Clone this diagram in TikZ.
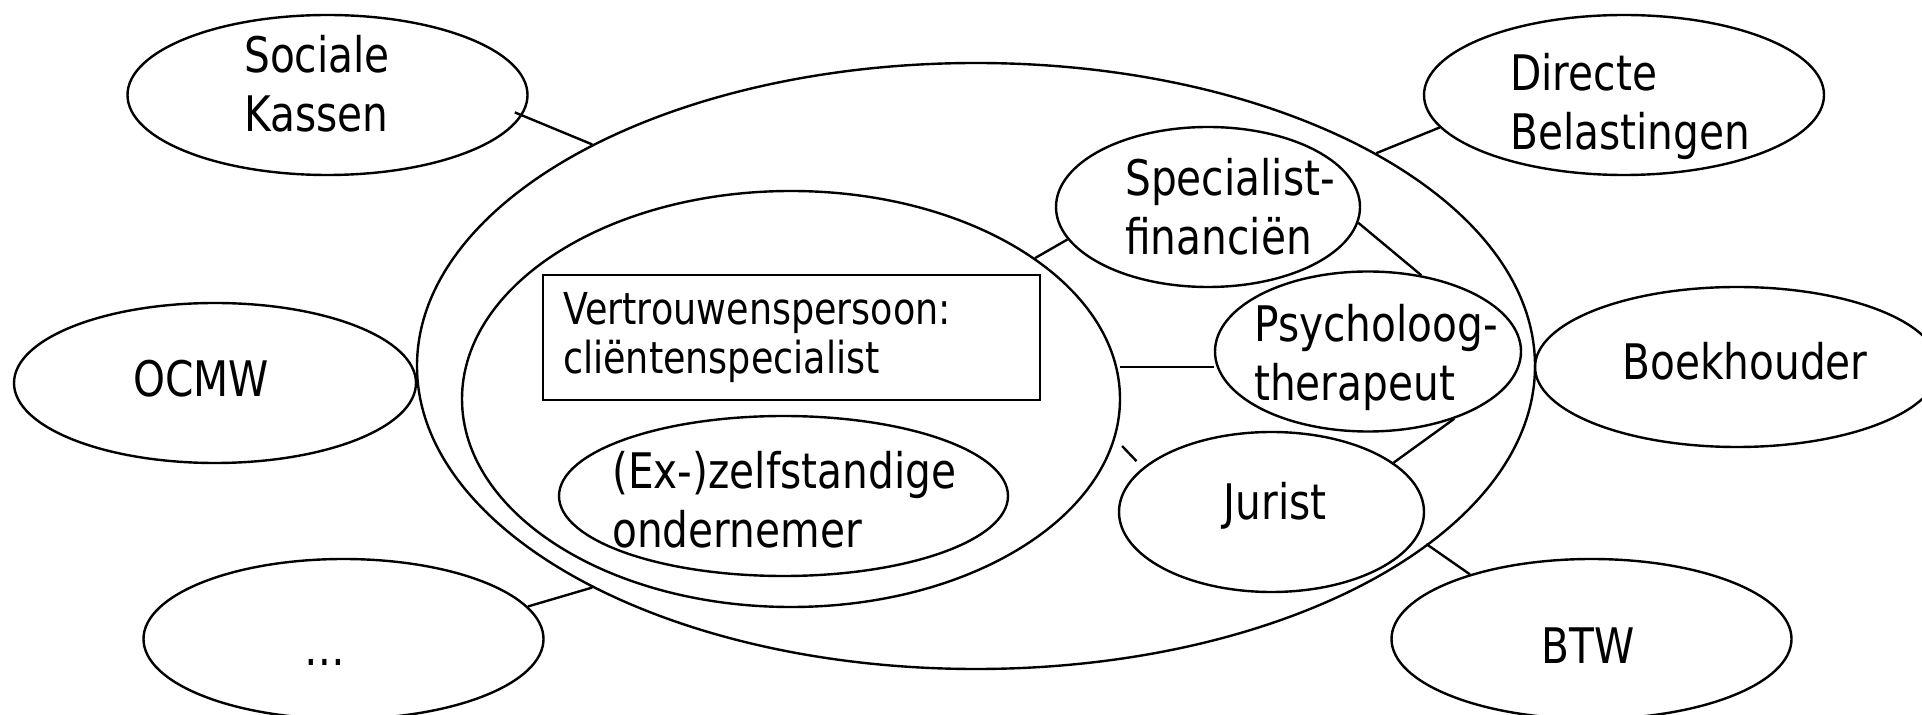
\documentclass[tikz,border=0pt]{standalone}
\usepackage{fontspec}
\setmainfont{DejaVu Sans}[FakeStretch=0.83]
\usetikzlibrary{shapes.geometric}

\begin{document}
\begin{tikzpicture}[x=0.5pt,y=-0.5pt,line width=1.2pt,
    bubble/.style={draw,ellipse,inner sep=0pt,minimum width=200pt,minimum height=80pt},
    txt/.style={inner sep=0pt,align=left,font=\fontsize{24.5}{29.5}\selectfont}]
      \useasboundingbox (0,0) rectangle (1922,715);
      \draw
        (976,366) node[bubble,minimum width=559pt,minimum height=303pt] (outer){}
        (791,399) node[bubble,minimum width=329pt,minimum height=208pt] (inner){}
        (327.5,95) node[bubble] (sk){}
        (1624,95) node[bubble] (db){}
        (215,383) node[bubble,minimum width=201pt] (ocmw){}
        (343.5,639) node[bubble] (dots){}
        (1591.5,639) node[bubble] (btw){}
        (1737,367) node[bubble,minimum width=202pt] (boek){}
        (1208,207) node[bubble,minimum width=152pt] (fin){}
        (1368,351.5) node[bubble,minimum width=153pt] (psy){}
        (1271.5,512) node[bubble,minimum width=152.5pt] (jur){}
        (783.5,496) node[bubble,minimum width=224.5pt] (ex){};
      \draw
        (791.5,337.5) node[draw,rectangle,inner xsep=10pt,inner ysep=0pt,text width=228.5pt,
          minimum height=62.5pt,align=left,font=\fontsize{22}{24.5}\selectfont] (vp){Vertrouwenspersoon:\\cliëntenspecialist}
        (243,84) node[txt,anchor=west] (sklbl){Sociale\\Kassen}
        (1509,106) node[txt,anchor=west] (dblbl){Directe\\Belastingen}
        (1124,207) node[txt,anchor=west] (finlbl){Specialist-\\financiën}
        (1253,357) node[txt,anchor=west] (psylbl){Psycholoog-\\therapeut}
        (611,500) node[txt,anchor=west] (exlbl){(Ex-)zelfstandige\\ondernemer}
        (1275,520) node[txt,anchor=base] (jurlbl){Jurist}
        (201,397) node[txt,anchor=base] (ocmwlbl){OCMW}
        (325,665) node[txt,anchor=base] (dotslbl){…}
        (1588,663) node[txt,anchor=base] (btwlbl){BTW}
        (1745,380) node[txt,anchor=base] (boeklbl){Boekhouder};
      \coordinate (hstart) at (1120,367);
      \begin{scope}[-]
        \draw[shorten >=-4pt] (outer.150) to (sk.-6);
        \draw (db.190) to (outer.28);
        \draw (dots.10) to (outer.210);
        \draw (fin.193) to (inner.30);
        \draw (fin.-6) to (psy.55);
        \draw (hstart) to (hstart -| psy.west);
        \draw (psy.-38) to (jur.22);
        \draw[shorten <=5pt,shorten >=4.5pt] (inner.-7.3) to (jur.161.8);
        \draw[shorten <=5.5pt] (jur.-10) to (btw.152);
      \end{scope}
    \end{tikzpicture}
\end{document}
